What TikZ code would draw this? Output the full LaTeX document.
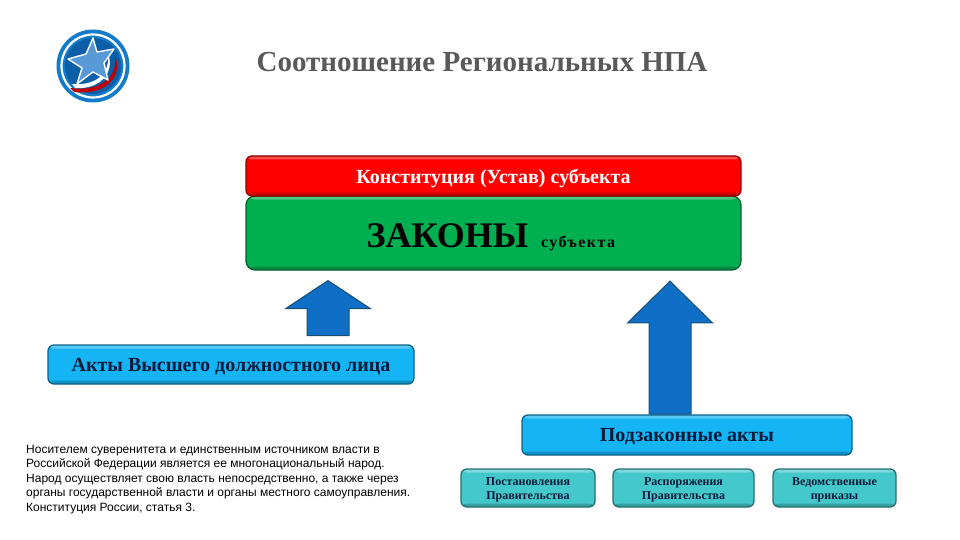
\documentclass[tikz,border=0pt]{standalone}
\usepackage{fontspec}
\setmainfont{Liberation Serif}
\newfontfamily\notefont{Liberation Sans}
\newfontfamily\widefont[LetterSpace=9]{Liberation Serif}
\usetikzlibrary{shapes.arrows,shapes.geometric}
\definecolor{titlegray}{HTML}{595959}
\definecolor{konred}{HTML}{FF0000}
\definecolor{zakgreen}{HTML}{00B050}
\definecolor{actblue}{HTML}{14B4F5}
\definecolor{subteal}{HTML}{45C8CC}
\definecolor{arrblue}{HTML}{0F6FC6}
\definecolor{edgeblue}{HTML}{1B4F72}
\definecolor{inknavy}{HTML}{0A1A3A}

\begin{document}
\begin{tikzpicture}[
  x=1pt, y=-1pt,
  plate/.style={draw=#1!55!black, line width=1.3pt, fill=#1, rounded corners=6pt,
    inner sep=0pt,
    path picture={
      \fill[white, opacity=.3] (path picture bounding box.north west)
        rectangle ([yshift=-3.5pt]path picture bounding box.north east);
      \fill[black, opacity=.2] (path picture bounding box.south west)
        rectangle ([yshift=3.5pt]path picture bounding box.south east);
    }},
  bigtext/.style={font=\bfseries\fontsize{20}{22}\selectfont, text=inknavy},
  smalltext/.style={font=\bfseries\fontsize{12}{14.5}\selectfont, align=center, text=inknavy},
  uparrow/.style={draw=edgeblue, line width=1pt, fill=arrblue, single arrow,
    rotate=90, inner sep=0pt, single arrow head extend=21.5pt}]
\useasboundingbox (0,0) rectangle (960,540);

% logo
\fill[cyan!60!blue] (93,66) circle (36.5);
\draw[white, line width=2.2pt] (93,66) circle (31.5);
\fill[arrblue!85!black] (93,66) circle (28);
\fill[red!75!black] (70,88) .. controls (100,92) and (118,78) .. (115,56)
  .. controls (123,74) and (108,96) .. (74,92) -- cycle;
\fill[white] (72,84) .. controls (98,86) and (110,72) .. (108,54)
  .. controls (115,70) and (102,90) .. (75,88) -- cycle;
\draw[white, line width=1.4pt, fill=arrblue!70!white, line join=round]
  (93,38) -- (97,52) -- (114,49) -- (104,63) -- (108,80) -- (93,72) -- (77,84)
  -- (82,68) -- (68,59) -- (86,54) -- cycle;

\node[font=\bfseries\fontsize{29}{32}\selectfont, text=titlegray] (title) at (482,62)
  {Соотношение Региональных НПА};

\node[plate=zakgreen, minimum width=495pt, minimum height=74pt, rounded corners=9pt] (zakony) at (493.5,233) {};
\node[plate=konred, minimum width=495pt, minimum height=40pt] (konst) at (493.5,176) {};
\node[bigtext, text=white] (konsttext) at ([yshift=-2pt]konst.center)
  {Конституция (Устав) субъекта};
\node[font=\bfseries\fontsize{36}{40}\selectfont] (zakonytext) at (447.5,236) {ЗАКОНЫ};
\node[font=\widefont\bfseries\fontsize{16}{18}\selectfont, anchor=base west, inner sep=0pt] (subtext) at ([xshift=9pt]zakonytext.base east) {субъекта};

\node[uparrow, minimum height=55pt, single arrow tip angle=113] (arrowa) at (328,315) {\rule{0pt}{41pt}};
\node[uparrow, minimum height=133pt, single arrow tip angle=91] (arrowb) at (670,358) {\rule{0pt}{41pt}};

\node[plate=actblue, minimum width=366pt, minimum height=39pt] (vdl) at (231,364.5) {};
\node[bigtext] (vdltext) at ([yshift=-2pt]vdl.center) {Акты Высшего должностного лица};
\node[plate=actblue, minimum width=330pt, minimum height=40pt] (podzak) at (687,435) {};
\node[bigtext] (podzaktext) at ([yshift=-2pt]podzak.center) {Подзаконные акты};

\node[plate=subteal, minimum width=134pt, minimum height=38pt] (post) at (528,488) {};
\node[smalltext] (posttext) at ([yshift=-2pt]post.center) {Постановления\\Правительства};
\node[plate=subteal, minimum width=141pt, minimum height=38pt] (rasp) at (683.5,488) {};
\node[smalltext] (rasptext) at ([yshift=-2pt]rasp.center) {Распоряжения\\Правительства};
\node[plate=subteal, minimum width=123pt, minimum height=38pt] (ved) at (834.5,488) {};
\node[smalltext] (vedtext) at ([yshift=-2pt]ved.center) {Ведомственные\\приказы};

\node[anchor=north west, inner sep=0pt, align=left, font=\notefont\fontsize{12}{14.4}\selectfont] (note) at (26,445)
  {Носителем суверенитета и единственным источником власти в\\
   Российской Федерации является ее многонациональный народ.\\
   Народ осуществляет свою власть непосредственно, а также через\\
   органы государственной власти и органы местного самоуправления.\\
   Конституция России, статья 3.};
\end{tikzpicture}
\end{document}
